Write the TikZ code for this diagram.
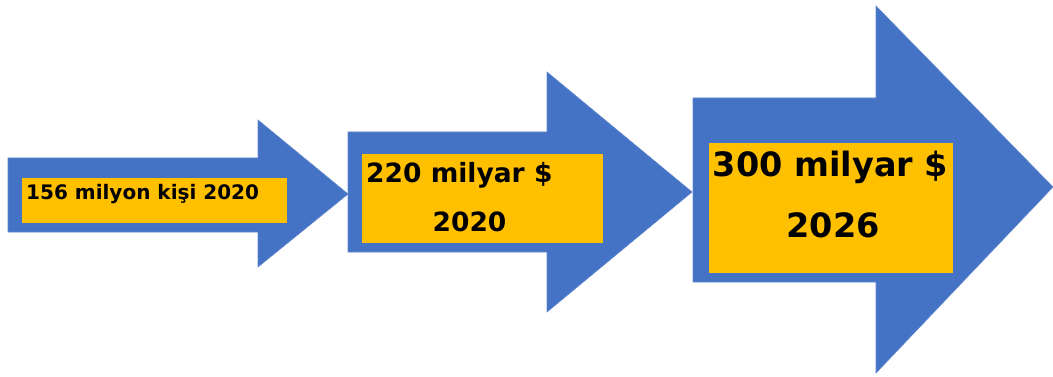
\documentclass[tikz,border=0pt]{standalone}
\usepackage{fontspec}
\setmainfont{DejaVu Sans}
\definecolor{arrowblue}{HTML}{4472C4}
\definecolor{boxgold}{HTML}{FFC000}
\tikzset{
  bigarrow/.style={fill=arrowblue, draw=arrowblue!85!white, line width=0.6pt, line join=miter},
  goldbox/.style={fill=boxgold, draw=none, inner sep=0pt, anchor=north west},
  label/.style={inner sep=0pt, font=\bfseries, text=black}
}
\begin{document}
\begin{tikzpicture}[x=1pt, y=-1pt]
  \useasboundingbox (0,0) rectangle (1053,377);

  % first arrow
  \draw[bigarrow] (8,158) -- (258,158) -- (258,120) -- (348,194)
                  -- (258,267) -- (258,232) -- (8,232) -- cycle;
  % second arrow
  \draw[bigarrow] (348,132) -- (547,132) -- (547,72) -- (692,192)
                  -- (547,312) -- (547,252) -- (348,252) -- cycle;
  % third arrow
  \draw[bigarrow] (693,98) -- (876,98) -- (876,6) -- (1053,187)
                  -- (876,373) -- (876,282) -- (693,282) -- cycle;

  % gold panels
  \node[goldbox, minimum width=265pt, minimum height=45pt] (box1) at (22,178) {};
  \node[goldbox, minimum width=241pt, minimum height=89pt] (box2) at (362,154) {};
  \node[goldbox, minimum width=244pt, minimum height=130pt] (box3) at (709,143) {};

  % labels
  \node[label, anchor=base west, font=\bfseries\fontsize{20}{22}\selectfont]
    (t1) at (26,200) {156 milyon kişi 2020};
  \node[label, anchor=base west, font=\bfseries\fontsize{26.5}{30}\selectfont]
    (t2a) at (366,183) {220 milyar \$};
  \node[label, anchor=base, font=\bfseries\fontsize{26.5}{30}\selectfont]
    (t2b) at (469.5,231) {2020};
  \node[label, anchor=base, font=\bfseries\fontsize{33.5}{38}\selectfont]
    (t3a) at (830.5,177) {300 milyar \$};
  \node[label, anchor=base, font=\bfseries\fontsize{33.5}{38}\selectfont]
    (t3b) at (833,237) {2026};
\end{tikzpicture}
\end{document}
